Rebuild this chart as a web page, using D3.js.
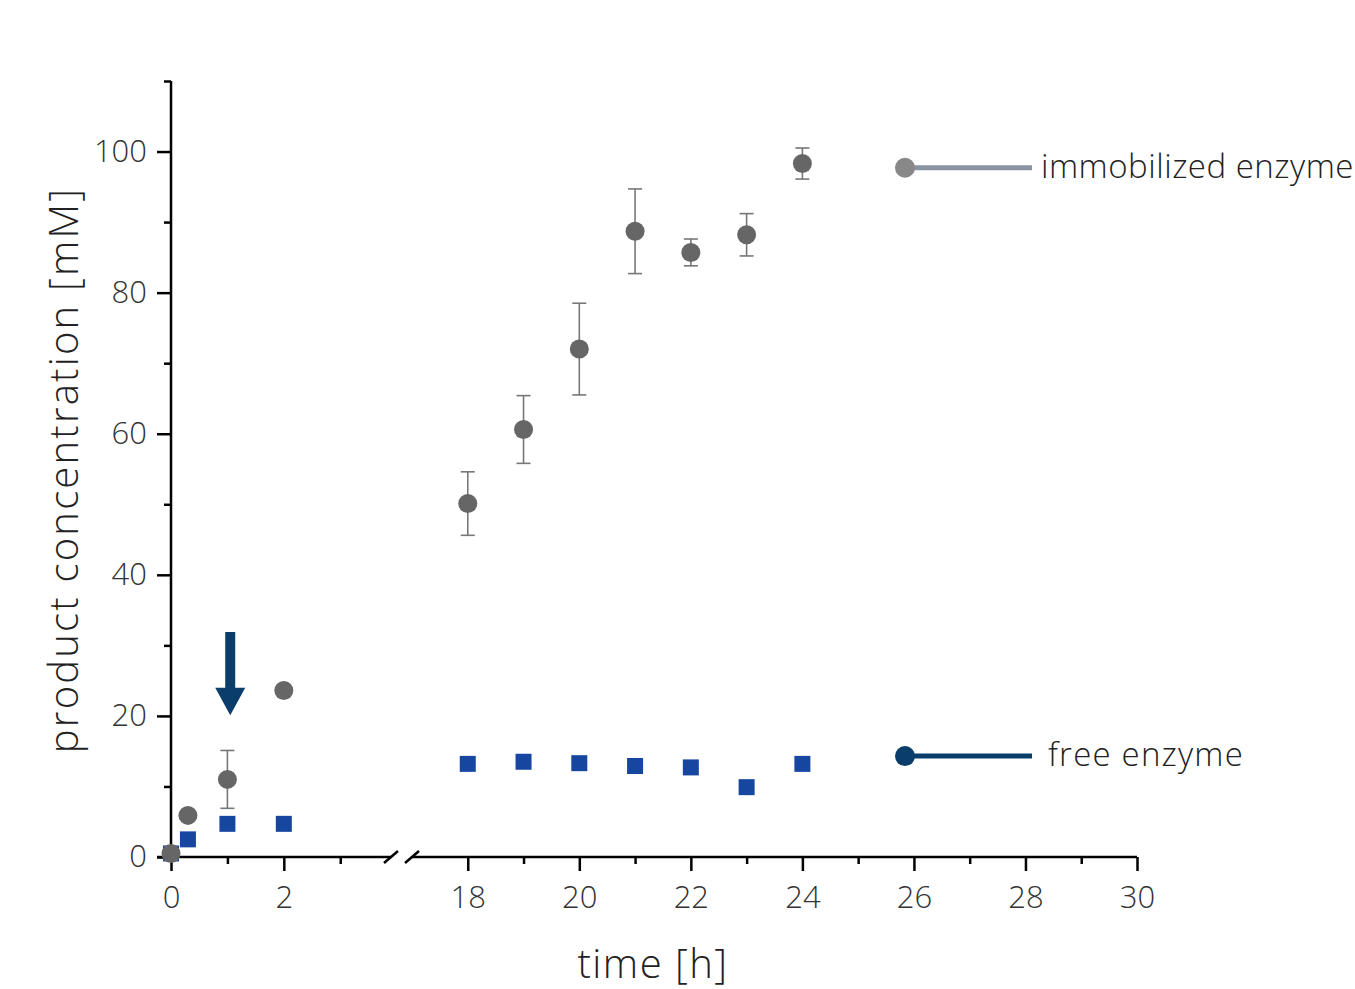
<!DOCTYPE html>
<head>
  <meta charset="utf-8">
  <script src="https://d3js.org/d3.v7.min.js"></script>
  <style>
    body { margin: 0; background: #fff; }
    svg { width: 1355px; height: 989px; display: block; }
    text { font-family: "Open Sans", "DejaVu Sans", sans-serif; font-weight: 300; fill: #333; }
  </style>
</head>

<body>
  <svg></svg>

  <script>
    // data
    const times = [0, 0.3, 1, 2, 18, 19, 20, 21, 22, 23, 24];
    const immobilized = [0.5, 5.9, 11.0, 23.6, 50.1, 60.6, 72.0, 88.7, 85.7, 88.2, 98.3];
    const immobilizedErr = [0, 0, 4.1, 0, 4.5, 4.8, 6.5, 6.0, 1.9, 3.0, 2.2];
    const free = [0.5, 2.5, 4.7, 4.7, 13.2, 13.5, 13.3, 12.9, 12.7, 9.9, 13.2];
    const xMajorLeft = [0, 2];
    const xMinorLeft = [1, 3];
    const xMajorRight = [18, 20, 22, 24, 26, 28, 30];
    const xMinorRight = [19, 21, 23, 25, 27, 29];
    const yMajor = [0, 20, 40, 60, 80, 100];
    const yMinor = [10, 30, 50, 70, 90, 110];
    const legendItems = ['immobilized enzyme', 'free enzyme'];
    const legendValues = [97.7, 14.3];

    const svg = d3.select('svg');

    // broken x axis: two linear pieces
    const xLeft = d3.scaleLinear().domain([0, 3.9]).range([171, 391]);
    const xRight = d3.scaleLinear().domain([17, 30]).range([412, 1137]);
    const x = t => (t <= 10 ? xLeft(t) : xRight(t));
    const y = d3.scaleLinear().domain([0, 110]).range([857, 81]);
    const y0 = y(0);

    const points = times.map((t, i) => ({
      t, imm: immobilized[i], err: immobilizedErr[i], free: free[i]
    }));

    // x axis pieces
    function xPiece(scale, major, minor) {
      const g = svg.append('g').attr('transform', `translate(0,${y0})`);
      g.append('g')
        .call(d3.axisBottom(scale).tickValues(major).tickSize(14).tickPadding(15).tickFormat(d3.format('d')))
        .call(a => a.select('.domain').remove());
      g.append('g')
        .call(d3.axisBottom(scale).tickValues(minor).tickSize(7).tickFormat(''))
        .call(a => a.select('.domain').remove());
      g.selectAll('line').attr('stroke', '#000').attr('stroke-width', 2.5);
      g.selectAll('text').attr('font-size', 31).style('fill', '#333');
      return g;
    }
    xPiece(xLeft, xMajorLeft, xMinorLeft);
    xPiece(xRight, xMajorRight, xMinorRight);

    // x axis lines with break marks
    svg.append('line').attr('x1', 157).attr('x2', xLeft(3.9)).attr('y1', y0).attr('y2', y0)
      .attr('stroke', '#000').attr('stroke-width', 2.5);
    svg.append('line').attr('x1', xRight(17)).attr('x2', xRight(30)).attr('y1', y0).attr('y2', y0)
      .attr('stroke', '#000').attr('stroke-width', 2.5);
    [xLeft(3.9), xRight(17)].forEach(bx => {
      svg.append('line')
        .attr('x1', bx - 7).attr('y1', y0 + 6).attr('x2', bx + 7).attr('y2', y0 - 6)
        .attr('stroke', '#000').attr('stroke-width', 2.5);
    });

    // y axis
    const yg = svg.append('g').attr('transform', 'translate(171,0)');
    yg.append('g')
      .call(d3.axisLeft(y).tickValues(yMajor).tickSize(14).tickPadding(10))
      .call(a => a.select('.domain').remove());
    yg.append('g')
      .call(d3.axisLeft(y).tickValues(yMinor).tickSize(7).tickFormat(''))
      .call(a => a.select('.domain').remove());
    yg.append('line').attr('y1', y(0) + 1).attr('y2', y(110)).attr('stroke', '#000').attr('stroke-width', 2.5);
    yg.selectAll('line').attr('stroke', '#000').attr('stroke-width', 2.5);
    yg.selectAll('text').attr('font-size', 31).style('fill', '#333');

    // axis titles
    svg.append('text')
      .attr('transform', `translate(78,470) rotate(-90)`)
      .attr('text-anchor', 'middle').attr('font-size', 40).attr('letter-spacing', 2.2)
      .style('fill', '#222')
      .text('product concentration [mM]');
    svg.append('text')
      .attr('x', 653).attr('y', 978)
      .attr('text-anchor', 'middle').attr('font-size', 40).attr('letter-spacing', 1.5)
      .style('fill', '#222')
      .text('time [h]');

    // error bars
    const eb = svg.append('g').attr('stroke', '#777').attr('stroke-width', 1.6);
    points.filter(d => d.err > 0).forEach(d => {
      const cx = x(d.t);
      eb.append('line').attr('x1', cx).attr('x2', cx).attr('y1', y(d.imm + d.err)).attr('y2', y(d.imm - d.err));
      [d.imm + d.err, d.imm - d.err].forEach(v => {
        eb.append('line').attr('x1', cx - 7).attr('x2', cx + 7).attr('y1', y(v)).attr('y2', y(v));
      });
    });

    // free enzyme squares
    svg.append('g').selectAll('rect').data(points).join('rect')
      .attr('x', d => x(d.t) - 8).attr('y', d => y(d.free) - 8)
      .attr('width', 16).attr('height', 16)
      .attr('fill', '#1746a0');

    // immobilized circles
    svg.append('g').selectAll('circle').data(points).join('circle')
      .attr('cx', d => x(d.t)).attr('cy', d => y(d.imm)).attr('r', 9.5)
      .attr('fill', '#666');

    // arrow at t = 1
    const ax = x(1.05);
    const arrow = d3.path();
    arrow.moveTo(ax - 5, y(31.9));
    arrow.lineTo(ax + 5, y(31.9));
    arrow.lineTo(ax + 5, y(24.0));
    arrow.lineTo(ax + 15, y(24.0));
    arrow.lineTo(ax, y(20.1));
    arrow.lineTo(ax - 15, y(24.0));
    arrow.lineTo(ax - 5, y(24.0));
    arrow.closePath();
    svg.append('path').attr('d', arrow.toString()).attr('fill', '#0b3d6b');

    // legend
    const legendColors = [
      { dot: '#888', line: '#8a93a3', textX: 1041, spacing: 0.5 },
      { dot: '#0b3d6b', line: '#0b3d6b', textX: 1048, spacing: 1.2 }
    ];
    legendItems.forEach((name, i) => {
      const ly = y(legendValues[i]);
      const c = legendColors[i];
      svg.append('line').attr('x1', 905).attr('x2', 1032).attr('y1', ly).attr('y2', ly)
        .attr('stroke', c.line).attr('stroke-width', 5);
      svg.append('circle').attr('cx', 905).attr('cy', ly).attr('r', 10).attr('fill', c.dot);
      svg.append('text').attr('x', c.textX).attr('y', ly + 10)
        .attr('font-size', 33).attr('letter-spacing', c.spacing)
        .style('fill', '#222').text(name);
    });
  </script>
</body>
